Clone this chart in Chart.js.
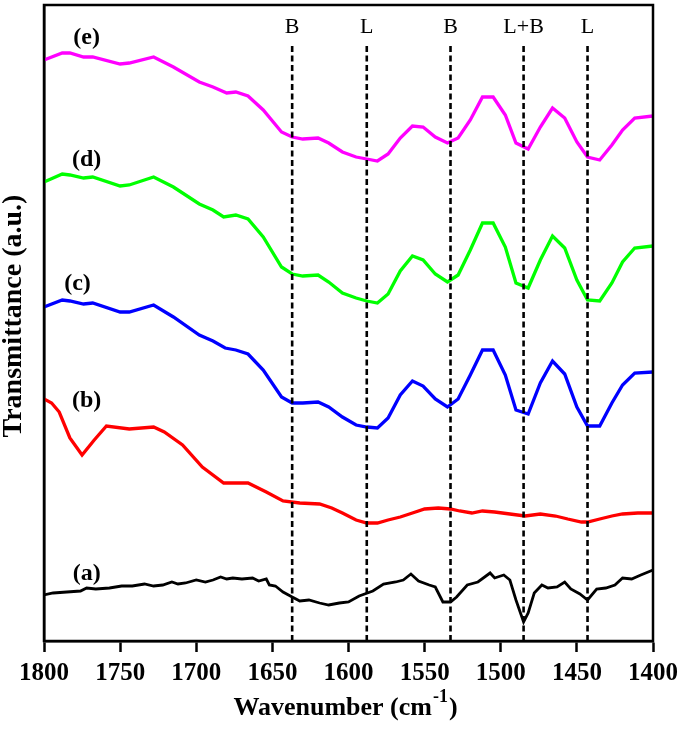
<!DOCTYPE html>
<html>
<head>
<meta charset="utf-8">
<script src="https://cdn.jsdelivr.net/npm/chart.js@4.4.0/dist/chart.umd.min.js"></script>
<style>
  body { margin: 0; background: #fff; }
  canvas { display: block; }
</style>
</head>
<body>
<canvas id="ftir" width="685" height="732"></canvas>
<script>
// IR spectra of adsorbed pyridine (arbitrary units)
const waveE = [1800, 1788, 1783, 1774, 1768, 1750, 1744, 1728, 1715, 1698, 1689, 1680, 1674, 1666, 1656, 1644, 1637, 1630, 1620, 1613, 1604, 1595, 1588, 1581, 1574, 1566, 1558, 1551, 1543, 1535, 1528, 1520, 1512, 1505, 1497, 1490, 1482, 1474, 1466, 1458, 1450, 1443, 1435, 1427, 1420, 1412, 1400];
const transE = [580, 587, 587, 583, 583, 576, 577, 583, 573, 558, 553, 547, 548, 544, 530, 508, 503, 501, 502, 497, 488, 483, 481, 479, 486, 502, 514, 513, 503, 497, 502, 520, 543, 543, 525, 497, 491, 513, 532, 522, 498, 483, 480, 495, 510, 522, 524];

const waveD = [1800, 1788, 1783, 1774, 1768, 1750, 1744, 1728, 1715, 1698, 1689, 1682, 1674, 1666, 1656, 1644, 1637, 1630, 1620, 1613, 1604, 1595, 1588, 1581, 1574, 1566, 1558, 1551, 1543, 1535, 1528, 1520, 1512, 1505, 1497, 1490, 1482, 1474, 1466, 1458, 1450, 1443, 1435, 1427, 1420, 1412, 1400];
const transD = [458, 466, 465, 462, 463, 454, 455, 463, 453, 436, 430, 423, 425, 421, 403, 373, 366, 364, 365, 358, 347, 342, 339, 337, 346, 369, 384, 380, 366, 358, 365, 390, 417, 417, 393, 357, 352, 380, 404, 392, 360, 340, 339, 357, 378, 392, 394];

const waveC = [1800, 1788, 1783, 1774, 1768, 1750, 1744, 1728, 1715, 1698, 1689, 1681, 1674, 1666, 1656, 1644, 1637, 1630, 1620, 1613, 1604, 1595, 1588, 1581, 1574, 1566, 1558, 1551, 1543, 1535, 1528, 1520, 1512, 1505, 1497, 1490, 1482, 1474, 1466, 1458, 1450, 1443, 1435, 1427, 1420, 1412, 1400];
const transC = [333, 340, 339, 336, 337, 328, 328, 335, 323, 305, 299, 292, 290, 286, 270, 243, 237, 237, 238, 233, 223, 215, 213, 212, 222, 245, 259, 254, 241, 233, 241, 265, 290, 290, 265, 230, 226, 257, 279, 266, 233, 214, 214, 237, 255, 267, 268];

const waveB = [1800, 1795, 1790, 1783, 1775, 1767, 1759, 1744, 1728, 1721, 1709, 1696, 1682, 1666, 1654, 1643, 1632, 1619, 1611, 1604, 1595, 1588, 1581, 1574, 1566, 1558, 1550, 1541, 1533, 1527, 1519, 1512, 1504, 1494, 1484, 1474, 1464, 1456, 1447, 1443, 1435, 1427, 1420, 1410, 1400];
const transB = [241, 237, 228, 202, 185, 200, 214, 211, 213, 208, 195, 173, 157, 157, 148, 139, 137, 136, 132, 127, 120, 117, 117, 120, 123, 127, 131, 132, 131, 129, 127, 129, 128, 126, 124, 126, 124, 121, 118, 118, 121, 124, 126, 127, 127];

const waveA = [1800, 1794, 1785, 1776, 1772, 1766, 1757, 1749, 1742, 1734, 1728, 1722, 1716, 1712, 1707, 1700, 1694, 1689, 1684, 1680, 1676, 1670, 1663, 1659, 1654, 1652, 1648, 1643, 1637, 1632, 1626, 1619, 1613, 1606, 1600, 1593, 1584, 1577, 1569, 1564, 1559, 1554, 1547, 1543, 1538, 1533, 1529, 1522, 1515, 1507, 1504, 1498, 1494, 1490, 1485, 1482, 1478, 1473, 1469, 1463, 1458, 1454, 1448, 1443, 1437, 1431, 1425, 1420, 1414, 1408, 1400];
const transA = [45, 47, 48, 49, 52, 51, 52, 54, 54, 56, 54, 55, 58, 56, 57, 60, 58, 60, 63, 61, 62, 61, 62, 59, 61, 55, 54, 48, 43, 39, 40, 37, 35, 37, 38, 44, 49, 56, 58, 60, 66, 59, 55, 53, 38, 38, 43, 55, 58, 67, 62, 65, 60, 40, 18, 27, 47, 55, 52, 53, 58, 51, 46, 40, 51, 52, 55, 62, 61, 65, 70];

// curve labels (placed in data units)
const curveNames = ["(e)", "(d)", "(c)", "(b)", "(a)"];
const curveNameX = [1772, 1772, 1778, 1772, 1772];
const curveNameY = [602, 480, 356, 239, 66];

// band markers
const bandWave = [1637, 1588, 1533, 1485, 1443];
const bandNames = ["B", "L", "B", "L+B", "L"];
const bandTop = 595;
const bandNameY = 613;

const xTicks = [1800, 1750, 1700, 1650, 1600, 1550, 1500, 1450, 1400];

const serif = "'Liberation Serif', 'Times New Roman', serif";

function toPoints(xs, ys) {
  return xs.map((x, i) => ({ x: x, y: ys[i] }));
}

const curves = [
  { data: toPoints(waveE, transE), color: "#ff00ff", w: 3.3 },
  { data: toPoints(waveD, transD), color: "#00ff00", w: 3.3 },
  { data: toPoints(waveC, transC), color: "#0000ff", w: 3.3 },
  { data: toPoints(waveB, transB), color: "#ff0000", w: 3.3 },
  { data: toPoints(waveA, transA), color: "#000000", w: 2.8 },
];

const datasets = curves.map((c) => ({
  data: c.data,
  borderColor: c.color,
  borderWidth: c.w,
  pointRadius: 0,
  tension: 0,
  fill: false,
  order: 1,
}));

// dashed vertical markers, drawn above the curves
bandWave.forEach((w) => {
  datasets.push({
    data: [{ x: w, y: -1 }, { x: w, y: bandTop }],
    borderColor: "#000",
    borderWidth: 2.6,
    borderDash: [6, 3.5],
    pointRadius: 0,
    order: 0,
  });
});

// texts and frame
const decor = {
  id: "decor",
  afterDraw(chart) {
    const ctx = chart.ctx;
    const xs = chart.scales.x;
    const ys = chart.scales.y;
    const area = chart.chartArea;
    ctx.save();

    // frame
    ctx.strokeStyle = "#000";
    ctx.lineWidth = 2.5;
    ctx.strokeRect(area.left, area.top, area.right - area.left, area.bottom - area.top);

    // band labels
    ctx.fillStyle = "#000";
    ctx.textAlign = "center";
    ctx.textBaseline = "middle";
    ctx.font = "22px " + serif;
    bandWave.forEach((w, i) => {
      ctx.fillText(bandNames[i], xs.getPixelForValue(w), ys.getPixelForValue(bandNameY));
    });

    // curve labels
    ctx.font = "bold 24px " + serif;
    curveNames.forEach((n, i) => {
      ctx.fillText(n, xs.getPixelForValue(curveNameX[i]), ys.getPixelForValue(curveNameY[i]));
    });

    // y axis title
    ctx.save();
    ctx.translate(14, 316);
    ctx.rotate(-Math.PI / 2);
    ctx.font = "bold 28px " + serif;
    ctx.fillText("Transmittance (a.u.)", 0, 0);
    ctx.restore();

    // x axis title with superscript
    const main = "Wavenumber (cm";
    const sup = "-1";
    const end = ")";
    ctx.textAlign = "left";
    ctx.textBaseline = "alphabetic";
    ctx.font = "bold 26px " + serif;
    const wMain = ctx.measureText(main).width;
    const wEnd = ctx.measureText(end).width;
    ctx.font = "bold 18px " + serif;
    const wSup = ctx.measureText(sup).width;
    let x0 = (area.left + area.right) / 2 - (wMain + wSup + wEnd) / 2 - 4;
    const base = 715;
    ctx.font = "bold 26px " + serif;
    ctx.fillText(main, x0, base);
    ctx.font = "bold 18px " + serif;
    ctx.fillText(sup, x0 + wMain + 1, base - 13);
    ctx.font = "bold 26px " + serif;
    ctx.fillText(end, x0 + wMain + wSup + 2, base);
    ctx.restore();
  },
};

new Chart(document.getElementById("ftir"), {
  type: "line",
  data: { datasets: datasets },
  options: {
    responsive: false,
    animation: false,
    layout: { padding: { top: 5, right: 30, left: 0, bottom: 0 } },
    plugins: { legend: { display: false }, tooltip: { enabled: false } },
    scales: {
      x: {
        type: "linear",
        reverse: true,
        min: 1400,
        max: 1800,
        afterBuildTicks: (s) => { s.ticks = xTicks.map((v) => ({ value: v })); },
        afterFit: (s) => { s.height = 91; },
        grid: {
          drawOnChartArea: false,
          drawTicks: true,
          tickLength: 11,
          tickWidth: 2.5,
          tickColor: "#000",
        },
        border: { display: true, color: "#000", width: 2.5 },
        ticks: {
          color: "#000",
          padding: 7,
          maxRotation: 0,
          autoSkip: false,
          callback: (v) => String(v),
          font: { family: serif, size: 25, weight: "bold" },
        },
      },
      y: {
        min: -1,
        max: 635,
        afterFit: (s) => { s.width = 44; },
        grid: { display: false },
        border: { display: true, color: "#000", width: 2.5 },
        ticks: { display: false },
      },
    },
  },
  plugins: [decor],
});
</script>
</body>
</html>
